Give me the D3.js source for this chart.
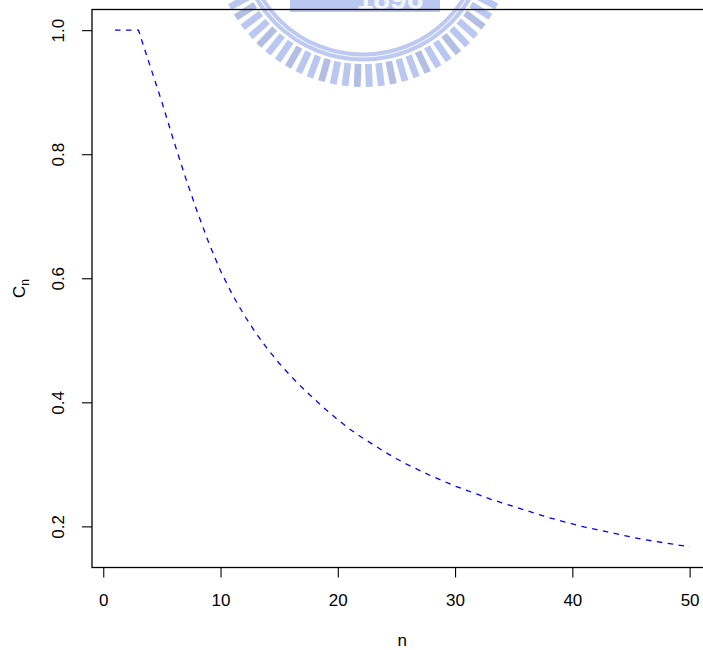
<!DOCTYPE html>
<meta charset="utf-8">
<style type="text/css">
body { margin: 0; background: #fff; }
svg { display: block; }
.axis text { font-family: "Liberation Sans", Arial, sans-serif; font-size: 17px; fill: #000; }
.axis line { stroke: #000; stroke-width: 1.1; }
.frame { fill: none; stroke: #000; stroke-width: 1.3; }
/* the C_n curve, R lty=2 style */
.line { fill: none; stroke: #0000ff; stroke-width: 1.3; stroke-dasharray: 5.5,5.5; }
.label { font-family: "Liberation Sans", Arial, sans-serif; font-size: 17px; fill: #000; }
</style>
<body>
</body>

<script src="https://d3js.org/d3.v7.min.js"></script>
<script>

// data: C_n for n = 1..50
var nValues = [1, 2, 3, 4, 5, 6, 7, 8, 9, 10,
  11, 12, 13, 14, 15, 16, 17, 18, 19, 20,
  21, 22, 23, 24, 25, 26, 27, 28, 29, 30,
  31, 32, 33, 34, 35, 36, 37, 38, 39, 40,
  41, 42, 43, 44, 45, 46, 47, 48, 49, 50];

var cnValues = [1.000, 1.000, 1.000, 0.942, 0.884, 0.822, 0.763, 0.708, 0.657, 0.612,
  0.574, 0.541, 0.512, 0.486, 0.463, 0.442, 0.423, 0.405, 0.388, 0.372,
  0.357, 0.344, 0.332, 0.320, 0.309, 0.299, 0.290, 0.281, 0.273, 0.265,
  0.258, 0.251, 0.244, 0.238, 0.232, 0.226, 0.220, 0.214, 0.209, 0.204,
  0.199, 0.195, 0.191, 0.187, 0.183, 0.179, 0.176, 0.173, 0.170, 0.167];

var xTicks = [0, 10, 20, 30, 40, 50];
var yTicks = [0.2, 0.4, 0.6, 0.8, 1.0];

var width = 703, height = 650;

// plot region (R leaves the right edge of the box outside the picture)
var plot = {left: 92, top: 9.5, right: 712.6, bottom: 567.5};

var dataset = nValues.map(function(n, i) { return {n: n, c: cnValues[i]}; });

// R style 4% padding around the data range
var xExt = d3.extent(nValues), yExt = d3.extent(cnValues);
var xPad = (xExt[1] - xExt[0]) * 0.04, yPad = (yExt[1] - yExt[0]) * 0.04;

var xScale = d3.scaleLinear()
    .domain([xExt[0] - xPad, xExt[1] + xPad])
    .range([plot.left, plot.right]);

var yScale = d3.scaleLinear()
    .domain([yExt[0] - yPad, yExt[1] + yPad])
    .range([plot.bottom, plot.top]);

var svg = d3.select("body").append("svg")
    .attr("width", width)
    .attr("height", height);

svg.append("rect")
    .attr("width", width)
    .attr("height", height)
    .attr("fill", "#fff");

// faint logo watermark at the top of the page
var mark = svg.append("g")
    .attr("transform", "translate(363,-64)")
    .attr("opacity", 0.75);

mark.append("circle")
    .attr("r", 121)
    .attr("fill", "none")
    .attr("stroke", "#a7b8ec")
    .attr("stroke-width", 9);

mark.append("circle")
    .attr("r", 121)
    .attr("fill", "none")
    .attr("stroke", "#eef2fc")
    .attr("stroke-width", 1.2);

mark.selectAll(".tooth")
    .data(d3.range(-62, 63, 4.6))
    .enter().append("rect")
    .attr("class", "tooth")
    .attr("x", -3.4)
    .attr("y", 128)
    .attr("width", 6.8)
    .attr("height", 23)
    .attr("fill", function(d, i) { return i % 3 == 1 ? "#99a9d9" : "#a3b5ec"; })
    .attr("transform", function(d) { return "rotate(" + (-d) + ")"; });

mark.append("rect")
    .attr("x", -73).attr("y", 62)
    .attr("width", 150).attr("height", 14)
    .attr("fill", "#a3b5ec");

mark.append("text")
    .attr("x", 27).attr("y", 73)
    .attr("text-anchor", "middle")
    .attr("font-family", "Liberation Sans, sans-serif")
    .attr("font-weight", "bold")
    .attr("font-size", 30)
    .attr("fill", "#eef2fc")
    .text("1896");

// x axis
var xAxis = d3.axisBottom(xScale)
    .tickValues(xTicks)
    .tickFormat(d3.format("d"))
    .tickSize(10)
    .tickPadding(16);

svg.append("g")
    .attr("class", "x axis")
    .attr("transform", "translate(0," + plot.bottom + ")")
    .call(xAxis)
    .call(function(g) { g.select(".domain").remove(); });

// y axis, labels turned like R does by default
var yAxis = d3.axisLeft(yScale)
    .tickValues(yTicks)
    .tickFormat(d3.format(".1f"))
    .tickSize(10)
    .tickPadding(0);

var yg = svg.append("g")
    .attr("class", "y axis")
    .attr("transform", "translate(" + plot.left + ",0)")
    .call(yAxis)
    .call(function(g) { g.select(".domain").remove(); });

yg.selectAll(".tick text")
    .attr("x", null)
    .attr("dy", null)
    .attr("text-anchor", "middle")
    .attr("transform", "translate(-28,0) rotate(-90)");

// the curve
var line = d3.line()
    .x(function(d) { return xScale(d.n); })
    .y(function(d) { return yScale(d.c); });

svg.append("path")
    .datum(dataset)
    .attr("class", "line")
    .attr("d", line);

// box round the plot
svg.append("rect")
    .attr("class", "frame")
    .attr("x", plot.left)
    .attr("y", plot.top)
    .attr("width", plot.right - plot.left)
    .attr("height", plot.bottom - plot.top);

// axis titles
svg.append("text")
    .attr("class", "label")
    .attr("x", (plot.left + plot.right) / 2)
    .attr("y", 646)
    .attr("text-anchor", "middle")
    .text("n");

var ylab = svg.append("text")
    .attr("class", "label")
    .attr("text-anchor", "middle")
    .attr("transform", "translate(25," + ((plot.top + plot.bottom) / 2) + ") rotate(-90)");

ylab.append("tspan").text("C");
ylab.append("tspan")
    .attr("font-size", "12px")
    .attr("dy", 4)
    .text("n");

</script>
